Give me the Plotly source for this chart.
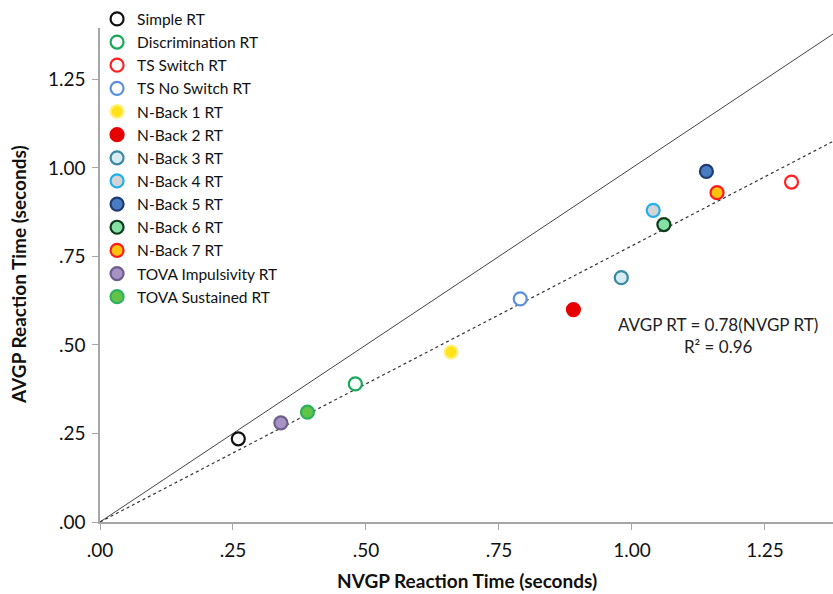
import plotly.graph_objects as go

names = ["Simple RT", "Discrimination RT", "TS Switch RT", "TS No Switch RT",
         "N-Back 1 RT", "N-Back 2 RT", "N-Back 3 RT", "N-Back 4 RT",
         "N-Back 5 RT", "N-Back 6 RT", "N-Back 7 RT",
         "TOVA Impulsivity RT", "TOVA Sustained RT"]
nvgp = [0.26, 0.48, 1.30, 0.79, 0.66, 0.89, 0.98, 1.04, 1.14, 1.06, 1.16, 0.34, 0.39]
avgp = [0.235, 0.39, 0.96, 0.63, 0.48, 0.60, 0.69, 0.88, 0.99, 0.84, 0.93, 0.28, 0.31]
fills = ["#ffffff", "#ffffff", "#ffffff", "#ffffff", "#ffe21a", "#e60000", "#d6ecf2",
         "#d4d4d4", "#4a7cc4", "#86e0a6", "#ffc20e", "#a593c4", "#62c446"]
edges = ["#111111", "#1aa85a", "#ff2222", "#5b8fde", "#fff080", "#e60000", "#3a8aa2",
         "#22b0ea", "#1e3c70", "#0c3c1c", "#ff1a1a", "#6e5e8e", "#2fb060"]
slope = 0.78
line_x = [0.0, 1.5]
tickvals = [0, 0.25, 0.5, 0.75, 1.0, 1.25]
ticktext = [".00", ".25", ".50", ".75", "1.00", "1.25"]

fig = go.Figure()
fig.add_trace(go.Scatter(x=line_x, y=line_x, mode="lines",
                         line=dict(color="#444444", width=1), showlegend=False, hoverinfo="skip"))
fig.add_trace(go.Scatter(x=line_x, y=[v * slope for v in line_x], mode="lines",
                         line=dict(color="#333333", width=1.2, dash="dot"), showlegend=False, hoverinfo="skip"))
for n, x, y, f, e in zip(names, nvgp, avgp, fills, edges):
    fig.add_trace(go.Scatter(x=[x], y=[y], mode="markers", name=n,
                             marker=dict(size=13, color=f, line=dict(color=e, width=2.2))))

fig.add_annotation(x=(718 - 100) / 733, y=(522 - 312) / 494, xref="paper", yref="paper",
                   text="AVGP RT = 0.78(NVGP RT)<br>R² = 0.96", showarrow=False,
                   font=dict(size=17, color="#222222"), align="center",
                   xanchor="center", yanchor="top")
fig.add_annotation(x=(467 - 100) / 733, y=(522 - 580) / 494, xref="paper", yref="paper",
                   text="<b>NVGP Reaction Time (seconds)</b>", showarrow=False,
                   font=dict(size=19, color="#111111"), xanchor="center", yanchor="middle")
fig.add_annotation(x=(18 - 100) / 733, y=(522 - 275) / 494, xref="paper", yref="paper",
                   text="<b>AVGP Reaction Time (seconds)</b>", showarrow=False, textangle=-90,
                   font=dict(size=19, color="#111111"), xanchor="center", yanchor="middle")

axis_common = dict(showgrid=False, zeroline=False, showline=True, linecolor="#a6a6a6", linewidth=1.5,
                   ticks="outside", ticklen=6, tickcolor="#a6a6a6", tickvals=tickvals, ticktext=ticktext,
                   tickfont=dict(size=19, color="#111111"), automargin=False)
fig.update_layout(
    width=833, height=594,
    margin=dict(l=100, r=0, t=28, b=72, autoexpand=False),
    paper_bgcolor="white", plot_bgcolor="white",
    font=dict(family="Lato, Open Sans, sans-serif", color="#111111"),
    xaxis=dict(range=[0, 1.378], ticklabelstandoff=4, **axis_common),
    yaxis=dict(range=[0, 1.395], ticklabelstandoff=3, **axis_common),
    legend=dict(x=-0.004, y=1.052, xanchor="left", yanchor="top", bgcolor="rgba(0,0,0,0)",
                font=dict(size=15.5), tracegroupgap=0, itemwidth=30, maxheight=600),
)
fig.write_html("out.html", config={"displayModeBar": False},
               post_script="document.body.style.margin='0px';")
